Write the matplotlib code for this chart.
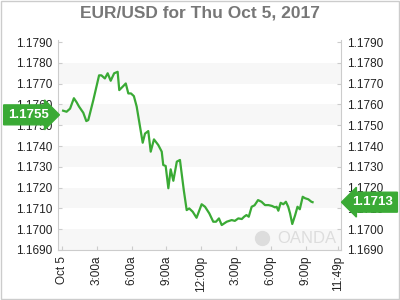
import matplotlib.pyplot as plt

# hours since midnight, EUR/USD rate
hours = [0.1, 0.4, 0.7, 1.03, 1.27, 1.47, 1.84, 2.1, 2.27, 2.7, 3.2, 3.4, 3.7, 3.94, 4.2,
         4.5, 4.8, 4.94, 5.28, 5.5, 5.72, 5.95, 6.2, 6.44, 6.96, 7.16, 7.44, 7.65, 7.93,
         8.3, 8.6, 8.73, 8.94, 9.17, 9.37, 9.6, 9.9, 10.17, 10.5, 10.75, 10.97, 11.27,
         11.6, 12.04, 12.33, 12.7, 13.04, 13.28, 13.53, 13.77, 14.2, 14.63, 14.9, 15.2,
         15.5, 15.7, 15.9, 16.1, 16.35, 16.6, 16.9, 17.2, 17.5, 17.8, 18.1, 18.36, 18.5,
         18.65, 18.85, 19.08, 19.3, 19.5, 19.66, 19.85, 20.1, 20.3, 20.5, 20.75, 20.95,
         21.23, 21.5, 21.6]
rates = [1.17570, 1.17565, 1.17580, 1.17630, 1.17610, 1.17590, 1.17560, 1.17520, 1.17525,
         1.17620, 1.17740, 1.17740, 1.17725, 1.17750, 1.17714, 1.17750, 1.17757, 1.17669,
         1.17688, 1.17701, 1.17653, 1.17653, 1.17640, 1.17590, 1.17416, 1.17460, 1.17472,
         1.17373, 1.17432, 1.17405, 1.17373, 1.17309, 1.17304, 1.17197, 1.17288, 1.17233,
         1.17325, 1.17333, 1.17188, 1.17092, 1.17100, 1.17084, 1.17055, 1.17120, 1.17108,
         1.17076, 1.17036, 1.17036, 1.17052, 1.17020, 1.17036, 1.17044, 1.17040, 1.17052,
         1.17049, 1.17060, 1.17068, 1.17060, 1.17108, 1.17115, 1.17140, 1.17132, 1.17116,
         1.17116, 1.17112, 1.17105, 1.17108, 1.17089, 1.17127, 1.17120, 1.17132, 1.17108,
         1.17076, 1.17025, 1.17068, 1.17108, 1.17096, 1.17156, 1.17149, 1.17144, 1.17132,
         1.17130]

tick_hours = [0, 3, 6, 9, 12, 15, 18, 21, 23.82]
tick_labels = ["Oct 5", "3:00a", "6:00a", "9:00a", "12:00p", "3:00p", "6:00p", "9:00p", "11:49p"]
y_ticks = [1.1690 + 0.001 * i for i in range(11)]
open_rate = 1.1755
close_rate = 1.1713

green = "#3aaa35"
grey = "#cccccc"

plt.rcParams['font.family'] = ['Liberation Sans', 'DejaVu Sans']

fig = plt.figure(figsize=(4, 3), dpi=100)
ax = fig.add_axes([58 / 400, 50 / 300, 283 / 400, 210 / 300])

for lo in y_ticks[0:10:2]:
    ax.axhspan(lo, lo + 0.001, color="#f7f7f7", lw=0, zorder=0)

ax.plot(hours, rates, color=green, lw=1.6, zorder=3)

ax.set_xlim(-0.34, 24.05)
ax.set_ylim(1.1690, 1.17910)
ax.set_yticks(y_ticks)
ax.set_yticklabels([f"{v:.4f}" for v in y_ticks])
ax.set_xticks(tick_hours)
ax.set_xticklabels(tick_labels, rotation=90)

ax.tick_params(axis="both", direction="in", length=3, color=grey, labelsize=8.5,
               labelcolor="#222222", pad=4)
ax.tick_params(axis="y", right=True, labelright=True)
for side in ["left", "right", "bottom"]:
    ax.spines[side].set_color(grey)
ax.spines["top"].set_visible(False)

fig.text(0.5, 0.957, "EUR/USD for Thu Oct 5, 2017", ha="center", va="center",
         fontsize=12.5, fontweight="bold", color="#777777")

ax.annotate(f"{open_rate:.4f}", xy=(0, open_rate), xycoords=("figure fraction", "data"),
            xytext=(28 / 400, open_rate), textcoords=("figure fraction", "data"),
            ha="center", va="center", color="white", fontsize=9.5, fontweight="bold",
            bbox=dict(boxstyle="rarrow,pad=0.3", fc=green, ec=green), zorder=5,
            annotation_clip=False)
ax.annotate(f"{close_rate:.4f}", xy=(0, close_rate), xycoords=("figure fraction", "data"),
            xytext=(373 / 400, close_rate), textcoords=("figure fraction", "data"),
            ha="center", va="center", color="white", fontsize=9.5, fontweight="bold",
            bbox=dict(boxstyle="larrow,pad=0.3", fc=green, ec=green), zorder=5,
            annotation_clip=False)

ax.text(0.985, 0.02, "OANDA", transform=ax.transAxes, ha="right", va="bottom",
        fontsize=12, color="#dddddd")
ax.plot([0.72], [0.055], transform=ax.transAxes, marker="o", ms=10, color="#dddddd",
        zorder=1)

fig.patches.append(plt.Rectangle((0.002, 0.003), 0.995, 0.994, transform=fig.transFigure,
                                 fill=False, ec=grey, lw=1))

fig.savefig("out.png", dpi=100)
